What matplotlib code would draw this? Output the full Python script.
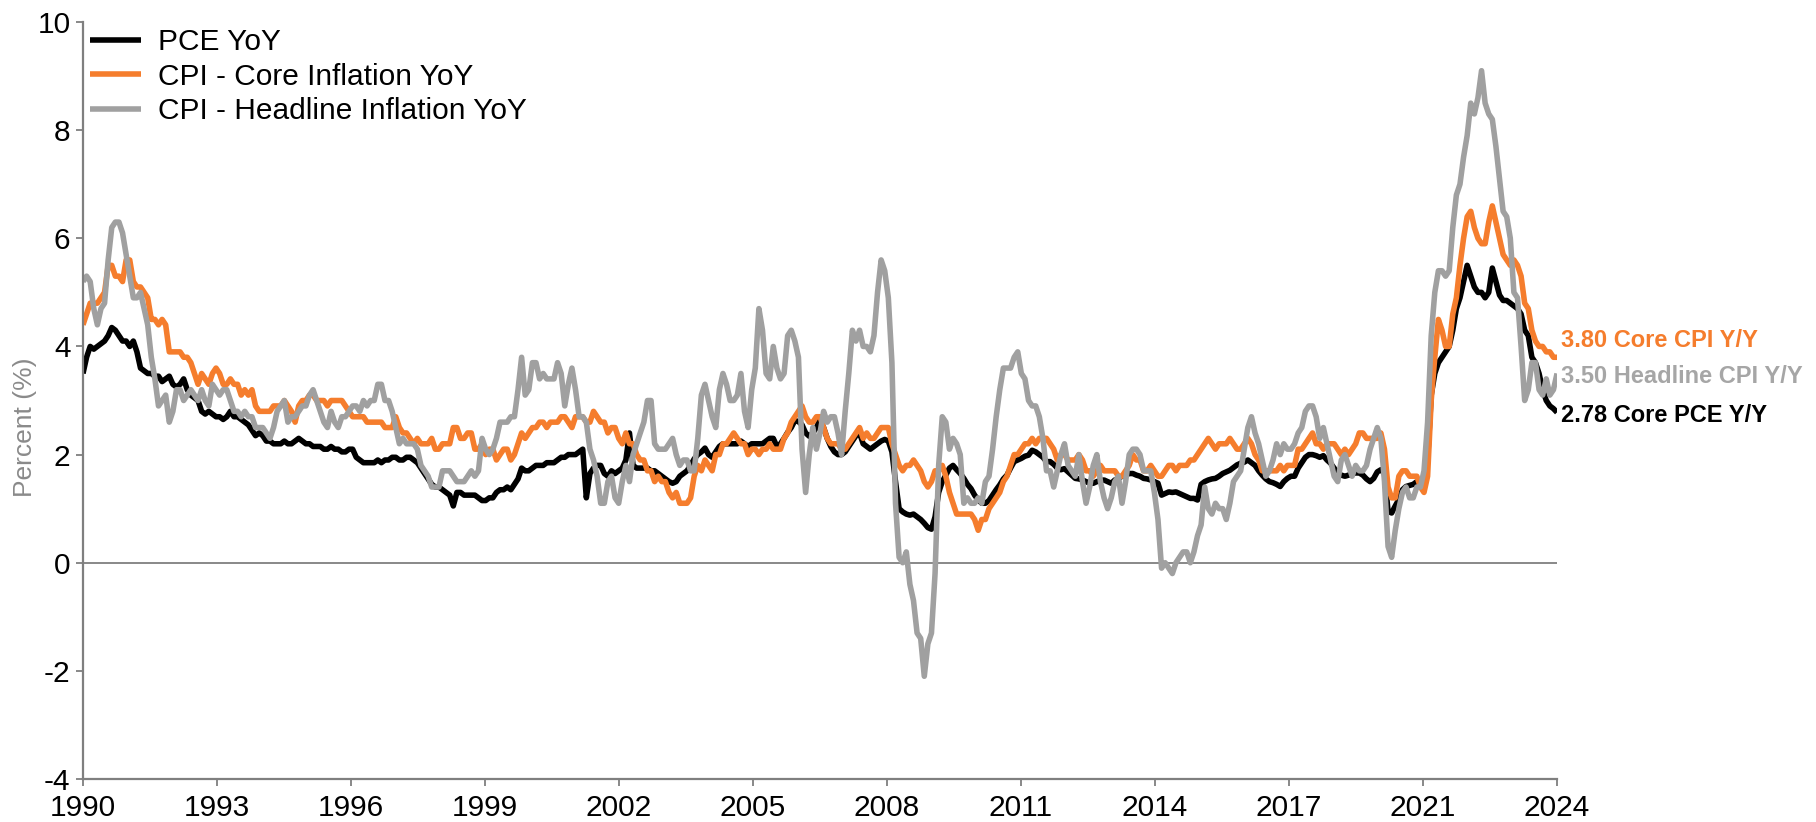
import numpy as np
import matplotlib
matplotlib.use("Agg")
import matplotlib.pyplot as plt

plt.rcParams['font.family'] = ['Liberation Sans', 'DejaVu Sans']
plt.rcParams['axes.unicode_minus'] = False

# monthly YoY %, Jan 1990 .. Mar 2024
pce_yoy = [
    3.5, 3.8, 4.0, 3.95, 4.0, 4.05, 4.1, 4.2, 4.35, 4.3, 4.2, 4.1,
    4.1, 4.0, 4.1, 3.9, 3.6, 3.55, 3.5, 3.5, 3.45, 3.45, 3.35, 3.4,
    3.45, 3.3, 3.25, 3.3, 3.4, 3.2, 3.1, 3.05, 3.0, 2.8, 2.75, 2.8,
    2.75, 2.7, 2.7, 2.65, 2.7, 2.8, 2.7, 2.7, 2.65, 2.6, 2.55, 2.45,
    2.35, 2.4, 2.35, 2.25, 2.25, 2.2, 2.2, 2.2, 2.25, 2.2, 2.2, 2.25,
    2.3, 2.25, 2.2, 2.2, 2.15, 2.15, 2.15, 2.1, 2.1, 2.15, 2.1, 2.1,
    2.05, 2.05, 2.1, 2.1, 1.95, 1.9, 1.85, 1.85, 1.85, 1.85, 1.9, 1.85,
    1.9, 1.9, 1.95, 1.95, 1.9, 1.9, 1.95, 1.95, 1.9, 1.85, 1.75, 1.65,
    1.55, 1.45, 1.4, 1.4, 1.35, 1.3, 1.25, 1.05, 1.3, 1.3, 1.25, 1.25,
    1.25, 1.25, 1.2, 1.15, 1.15, 1.2, 1.2, 1.3, 1.35, 1.35, 1.4, 1.35,
    1.45, 1.55, 1.75, 1.7, 1.7, 1.75, 1.8, 1.8, 1.8, 1.85, 1.85, 1.85,
    1.9, 1.95, 1.95, 2.0, 2.0, 2.0, 2.05, 2.1, 1.2, 1.65, 1.75, 1.8,
    1.8, 1.65, 1.6, 1.7, 1.65, 1.7, 1.75, 1.9, 2.4, 1.8, 1.75, 1.75,
    1.75, 1.75, 1.7, 1.7, 1.65, 1.6, 1.55, 1.5, 1.47, 1.5, 1.6, 1.65,
    1.7, 1.8, 1.92, 2.0, 2.05, 2.12, 2.0, 1.95, 2.05, 2.15, 2.2, 2.2,
    2.2, 2.2, 2.2, 2.25, 2.2, 2.15, 2.2, 2.2, 2.2, 2.2, 2.25, 2.3,
    2.3, 2.15, 2.2, 2.3, 2.41, 2.5, 2.63, 2.61, 2.55, 2.4, 2.34, 2.4,
    2.5, 2.65, 2.5, 2.3, 2.15, 2.05, 2.0, 2.0, 2.05, 2.15, 2.25, 2.35,
    2.4, 2.2, 2.15, 2.1, 2.15, 2.2, 2.25, 2.28, 2.25, 2.05, 1.5, 1.0,
    0.94, 0.9, 0.88, 0.9, 0.85, 0.8, 0.73, 0.65, 0.62, 0.85, 1.3, 1.5,
    1.62, 1.75, 1.8, 1.72, 1.65, 1.56, 1.45, 1.37, 1.25, 1.16, 1.1, 1.1,
    1.15, 1.25, 1.35, 1.44, 1.55, 1.62, 1.75, 1.87, 1.9, 1.93, 1.97, 1.99,
    2.08, 2.05, 2.0, 1.95, 1.87, 1.87, 1.82, 1.75, 1.72, 1.74, 1.68, 1.62,
    1.56, 1.55, 1.53, 1.5, 1.47, 1.47, 1.5, 1.52, 1.53, 1.5, 1.47, 1.53,
    1.56, 1.6, 1.62, 1.65, 1.65, 1.62, 1.6, 1.56, 1.55, 1.53, 1.5, 1.47,
    1.25, 1.28, 1.31, 1.3, 1.31, 1.28, 1.25, 1.22, 1.19, 1.19, 1.16, 1.45,
    1.5, 1.53, 1.55, 1.56, 1.6, 1.65, 1.68, 1.71, 1.76, 1.81, 1.84, 1.86,
    1.9, 1.85, 1.8, 1.7, 1.62, 1.55, 1.5, 1.48, 1.45, 1.41, 1.5, 1.56,
    1.6, 1.6, 1.75, 1.85, 1.95, 2.0, 2.0, 1.98, 1.95, 1.98, 1.9, 1.84,
    1.75, 1.65, 1.62, 1.6, 1.62, 1.65, 1.66, 1.66, 1.62, 1.55, 1.5, 1.56,
    1.68, 1.72, 1.65, 0.95, 0.92, 1.05, 1.17, 1.35, 1.41, 1.43, 1.45, 1.5,
    1.5, 1.5, 1.9, 3.1, 3.5, 3.7, 3.8, 3.9, 4.0, 4.3, 4.7, 4.9,
    5.2, 5.5, 5.3, 5.1, 5.0, 5.0, 4.9, 5.0, 5.45, 5.2, 4.95, 4.85,
    4.85, 4.8, 4.75, 4.7, 4.6, 4.3, 4.2, 3.8, 3.7, 3.5, 3.2, 3.0,
    2.9, 2.85, 2.78,
]

core_cpi_yoy = [
    4.4, 4.6, 4.8, 4.8, 4.8, 4.9, 5.0, 5.5, 5.5, 5.3, 5.3, 5.2,
    5.6, 5.6, 5.2, 5.1, 5.1, 5.0, 4.9, 4.5, 4.5, 4.4, 4.5, 4.4,
    3.9, 3.9, 3.9, 3.9, 3.8, 3.8, 3.7, 3.5, 3.3, 3.5, 3.4, 3.3,
    3.5, 3.6, 3.5, 3.3, 3.3, 3.4, 3.3, 3.3, 3.1, 3.2, 3.1, 3.2,
    2.9, 2.8, 2.8, 2.8, 2.8, 2.9, 2.9, 2.9, 3.0, 2.9, 2.8, 2.6,
    2.9, 3.0, 3.0, 3.1, 3.1, 3.0, 3.0, 3.0, 2.9, 3.0, 3.0, 3.0,
    3.0, 2.9, 2.8, 2.7, 2.7, 2.7, 2.7, 2.6, 2.6, 2.6, 2.6, 2.6,
    2.5, 2.5, 2.5, 2.7, 2.5, 2.4, 2.4, 2.3, 2.2, 2.3, 2.2, 2.2,
    2.2, 2.3, 2.1, 2.1, 2.2, 2.2, 2.2, 2.5, 2.5, 2.3, 2.3, 2.4,
    2.4, 2.1, 2.1, 2.2, 2.0, 2.1, 2.1, 1.9, 2.0, 2.1, 2.1, 1.9,
    2.0, 2.2, 2.4, 2.3, 2.4, 2.5, 2.5, 2.6, 2.6, 2.5, 2.6, 2.6,
    2.6, 2.7, 2.7, 2.6, 2.5, 2.7, 2.7, 2.7, 2.6, 2.6, 2.8, 2.7,
    2.6, 2.6, 2.4, 2.5, 2.5, 2.3, 2.2, 2.4, 2.2, 2.2, 2.0, 1.9,
    1.9, 1.7, 1.7, 1.5, 1.6, 1.5, 1.5, 1.3, 1.2, 1.3, 1.1, 1.1,
    1.1, 1.2, 1.6, 1.8, 1.7, 1.9, 1.8, 1.7, 2.0, 2.0, 2.2, 2.2,
    2.3, 2.4, 2.3, 2.2, 2.2, 2.0, 2.1, 2.1, 2.0, 2.1, 2.1, 2.2,
    2.1, 2.1, 2.1, 2.3, 2.4, 2.6, 2.7, 2.8, 2.9, 2.7, 2.6, 2.6,
    2.7, 2.7, 2.5, 2.3, 2.2, 2.2, 2.2, 2.1, 2.1, 2.2, 2.3, 2.4,
    2.5, 2.3, 2.4, 2.3, 2.3, 2.4, 2.5, 2.5, 2.5, 2.2, 2.0, 1.8,
    1.7, 1.8, 1.8, 1.9, 1.8, 1.7, 1.5, 1.4, 1.5, 1.7, 1.7, 1.8,
    1.6, 1.3, 1.1, 0.9, 0.9, 0.9, 0.9, 0.9, 0.8, 0.6, 0.8, 0.8,
    1.0, 1.1, 1.2, 1.3, 1.5, 1.6, 1.8, 2.0, 2.0, 2.1, 2.2, 2.2,
    2.3, 2.2, 2.3, 2.3, 2.3, 2.2, 2.1, 1.9, 2.0, 2.0, 1.9, 1.9,
    1.9, 2.0, 1.9, 1.7, 1.7, 1.6, 1.7, 1.8, 1.7, 1.7, 1.7, 1.7,
    1.6, 1.6, 1.7, 1.8, 2.0, 1.9, 1.9, 1.7, 1.7, 1.8, 1.7, 1.6,
    1.6, 1.7, 1.8, 1.8, 1.7, 1.8, 1.8, 1.8, 1.9, 1.9, 2.0, 2.1,
    2.2, 2.3, 2.2, 2.1, 2.2, 2.2, 2.2, 2.3, 2.2, 2.1, 2.1, 2.2,
    2.3, 2.2, 2.0, 1.9, 1.7, 1.7, 1.7, 1.7, 1.7, 1.8, 1.7, 1.8,
    1.8, 1.8, 2.1, 2.1, 2.2, 2.3, 2.4, 2.2, 2.2, 2.1, 2.2, 2.2,
    2.2, 2.1, 2.0, 2.1, 2.0, 2.1, 2.2, 2.4, 2.4, 2.3, 2.3, 2.3,
    2.3, 2.4, 2.1, 1.4, 1.2, 1.2, 1.6, 1.7, 1.7, 1.6, 1.6, 1.6,
    1.4, 1.3, 1.6, 3.0, 3.8, 4.5, 4.3, 4.0, 4.0, 4.6, 4.9, 5.5,
    6.0, 6.4, 6.5, 6.2, 6.0, 5.9, 5.9, 6.3, 6.6, 6.3, 6.0, 5.7,
    5.6, 5.5, 5.6, 5.5, 5.3, 4.8, 4.7, 4.3, 4.1, 4.0, 4.0, 3.9,
    3.9, 3.8, 3.8,
]

headline_cpi_yoy = [
    5.2, 5.3, 5.2, 4.7, 4.4, 4.7, 4.8, 5.6, 6.2, 6.3, 6.3, 6.1,
    5.7, 5.3, 4.9, 4.9, 5.0, 4.7, 4.4, 3.8, 3.4, 2.9, 3.0, 3.1,
    2.6, 2.8, 3.2, 3.2, 3.0, 3.1, 3.2, 3.1, 3.0, 3.2, 3.0, 2.9,
    3.3, 3.2, 3.1, 3.2, 3.2, 3.0, 2.8, 2.8, 2.7, 2.8, 2.7, 2.7,
    2.5, 2.5, 2.5, 2.4, 2.3, 2.5, 2.8, 2.9, 3.0, 2.6, 2.7, 2.7,
    2.8, 2.9, 2.9, 3.1, 3.2, 3.0, 2.8, 2.6, 2.5, 2.8, 2.6, 2.5,
    2.7, 2.7, 2.8, 2.9, 2.9, 2.8, 3.0, 2.9, 3.0, 3.0, 3.3, 3.3,
    3.0, 3.0, 2.8, 2.5, 2.2, 2.3, 2.2, 2.2, 2.2, 2.1, 1.8, 1.7,
    1.6, 1.4, 1.4, 1.4, 1.7, 1.7, 1.7, 1.6, 1.5, 1.5, 1.5, 1.6,
    1.7, 1.6, 1.7, 2.3, 2.1, 2.0, 2.1, 2.3, 2.6, 2.6, 2.6, 2.7,
    2.7, 3.2, 3.8, 3.1, 3.2, 3.7, 3.7, 3.4, 3.5, 3.4, 3.4, 3.4,
    3.7, 3.5, 2.9, 3.3, 3.6, 3.2, 2.7, 2.7, 2.6, 2.1, 1.9, 1.6,
    1.1, 1.1, 1.5, 1.6, 1.2, 1.1, 1.5, 1.8, 1.5, 2.0, 2.2, 2.4,
    2.6, 3.0, 3.0, 2.2, 2.1, 2.1, 2.1, 2.2, 2.3, 2.0, 1.8, 1.9,
    1.9, 1.7, 1.7, 2.3, 3.1, 3.3, 3.0, 2.7, 2.5, 3.2, 3.5, 3.3,
    3.0, 3.0, 3.1, 3.5, 2.8, 2.5, 3.2, 3.6, 4.7, 4.3, 3.5, 3.4,
    4.0, 3.6, 3.4, 3.5, 4.2, 4.3, 4.1, 3.8, 2.1, 1.3, 2.0, 2.5,
    2.1, 2.4, 2.8, 2.6, 2.7, 2.7, 2.4, 2.0, 2.8, 3.5, 4.3, 4.1,
    4.3, 4.0, 4.0, 3.9, 4.2, 5.0, 5.6, 5.4, 4.9, 3.7, 1.1, 0.1,
    0.0, 0.2, -0.4, -0.7, -1.3, -1.4, -2.1, -1.5, -1.3, -0.2, 1.8, 2.7,
    2.6, 2.1, 2.3, 2.2, 2.0, 1.1, 1.2, 1.1, 1.1, 1.2, 1.1, 1.5,
    1.6, 2.1, 2.7, 3.2, 3.6, 3.6, 3.6, 3.8, 3.9, 3.5, 3.4, 3.0,
    2.9, 2.9, 2.7, 2.3, 1.7, 1.7, 1.4, 1.7, 2.0, 2.2, 1.8, 1.7,
    1.6, 2.0, 1.5, 1.1, 1.4, 1.8, 2.0, 1.5, 1.2, 1.0, 1.2, 1.5,
    1.6, 1.1, 1.5, 2.0, 2.1, 2.1, 2.0, 1.7, 1.7, 1.7, 1.3, 0.8,
    -0.1, 0.0, -0.1, -0.2, 0.0, 0.1, 0.2, 0.2, 0.0, 0.2, 0.5, 0.7,
    1.4, 1.0, 0.9, 1.1, 1.0, 1.0, 0.8, 1.1, 1.5, 1.6, 1.7, 2.1,
    2.5, 2.7, 2.4, 2.2, 1.9, 1.6, 1.7, 1.9, 2.2, 2.0, 2.2, 2.1,
    2.1, 2.2, 2.4, 2.5, 2.8, 2.9, 2.9, 2.7, 2.3, 2.5, 2.2, 1.9,
    1.6, 1.5, 1.9, 2.0, 1.8, 1.6, 1.8, 1.7, 1.7, 1.8, 2.1, 2.3,
    2.5, 2.3, 1.5, 0.3, 0.1, 0.6, 1.0, 1.3, 1.4, 1.2, 1.2, 1.4,
    1.4, 1.7, 2.6, 4.2, 5.0, 5.4, 5.4, 5.3, 5.4, 6.2, 6.8, 7.0,
    7.5, 7.9, 8.5, 8.3, 8.6, 9.1, 8.5, 8.3, 8.2, 7.7, 7.1, 6.5,
    6.4, 6.0, 5.0, 4.9, 4.0, 3.0, 3.2, 3.7, 3.7, 3.2, 3.1, 3.4,
    3.1, 3.2, 3.5,
]

tick_labels = ["1990", "1993", "1996", "1999", "2002", "2005",
               "2008", "2011", "2014", "2017", "2021", "2024"]
series_names = ["PCE YoY", "CPI - Core Inflation YoY", "CPI - Headline Inflation YoY"]
end_labels = ["2.78 Core PCE Y/Y", "3.80 Core CPI Y/Y", "3.50 Headline CPI Y/Y"]

colors = ["#000000", "#F57D2D", "#A0A0A0"]
end_colors = ["#000000", "#F57D2D", "#A6A6A6"]
label_offsets = [-2, 12, -2]  # points, to keep the end labels apart

axis_gray = "#7F7F7F"

fig = plt.figure(figsize=(18.16, 8.22), dpi=100)
ax = fig.add_axes([0.0457, 0.0523, 0.8117, 0.9209])

x = np.arange(len(pce_yoy))
series = [pce_yoy, core_cpi_yoy, headline_cpi_yoy]

ax.axhline(0, color=axis_gray, lw=1.3, zorder=1)
for vals, name, c in zip(series, series_names, colors):
    ax.plot(x, vals, color=c, lw=4.0, label=name, zorder=2,
            solid_joinstyle='round', solid_capstyle='butt')

for vals, text, c, dy in zip(series, end_labels, end_colors, label_offsets):
    ax.annotate(text, xy=(x[-1], vals[-1]), xytext=(3, dy),
                textcoords='offset points', ha='left', va='center',
                fontsize=17, fontweight='bold', color=c,
                annotation_clip=False)

ax.set_xlim(0, len(x) - 1)
ax.set_ylim(-4, 10)
ax.set_yticks(range(-4, 11, 2))
ax.set_xticks(np.linspace(0, len(x) - 1, len(tick_labels)))
ax.set_xticklabels(tick_labels)

for side in ["top", "right"]:
    ax.spines[side].set_visible(False)
for side in ["left", "bottom"]:
    ax.spines[side].set_color(axis_gray)
    ax.spines[side].set_linewidth(1.6)

ax.tick_params(axis='both', labelsize=21.5, color=axis_gray, width=1.3,
               length=5, labelcolor='black')
ax.tick_params(axis='x', pad=5.5)
ax.tick_params(axis='y', pad=4)

ax.set_ylabel("Percent (%)", color="#8A8A8A", fontsize=19)
ax.yaxis.set_label_coords(-0.031, 0.465)

ax.legend(loc='upper left', bbox_to_anchor=(90 / 1816, 1 - 28 / 822),
          bbox_transform=fig.transFigure, frameon=False, fontsize=21.5,
          handlelength=1.72, handletextpad=0.57, labelspacing=0.22,
          borderpad=0, borderaxespad=0)

fig.savefig("out.png", dpi=100)
